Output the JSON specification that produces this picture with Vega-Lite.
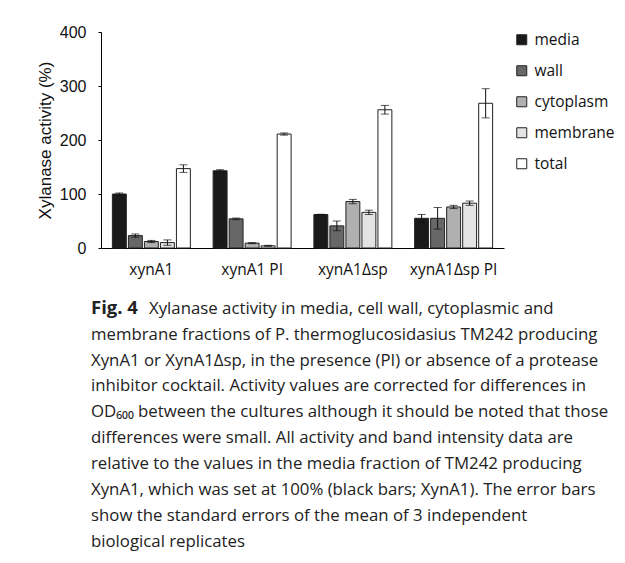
{
  "$schema": "https://vega.github.io/schema/vega-lite/v6.json",
  "padding": {"left": 36, "top": 24, "right": 5, "bottom": 0},
  "background": "white",
  "datasets": {
    "bars": [
      {"group": "xynA1", "fraction": "media", "value": 100, "err": 2},
      {"group": "xynA1", "fraction": "wall", "value": 23, "err": 3},
      {"group": "xynA1", "fraction": "cytoplasm", "value": 12, "err": 2},
      {"group": "xynA1", "fraction": "membrane", "value": 10, "err": 5},
      {"group": "xynA1", "fraction": "total", "value": 147, "err": 7},
      {"group": "xynA1 PI", "fraction": "media", "value": 143, "err": 2},
      {"group": "xynA1 PI", "fraction": "wall", "value": 54, "err": 1.5},
      {"group": "xynA1 PI", "fraction": "cytoplasm", "value": 9, "err": 1},
      {"group": "xynA1 PI", "fraction": "membrane", "value": 4, "err": 1},
      {"group": "xynA1 PI", "fraction": "total", "value": 211, "err": 2},
      {"group": "xynA1Δsp", "fraction": "media", "value": 62, "err": 0.5},
      {"group": "xynA1Δsp", "fraction": "wall", "value": 41, "err": 9},
      {"group": "xynA1Δsp", "fraction": "cytoplasm", "value": 86, "err": 4},
      {"group": "xynA1Δsp", "fraction": "membrane", "value": 66, "err": 4},
      {"group": "xynA1Δsp", "fraction": "total", "value": 256, "err": 8},
      {"group": "xynA1Δsp PI", "fraction": "media", "value": 55, "err": 7},
      {"group": "xynA1Δsp PI", "fraction": "wall", "value": 55, "err": 20},
      {"group": "xynA1Δsp PI", "fraction": "cytoplasm", "value": 76, "err": 3},
      {"group": "xynA1Δsp PI", "fraction": "membrane", "value": 83, "err": 4},
      {"group": "xynA1Δsp PI", "fraction": "total", "value": 268, "err": 27}
    ],
    "caption": [
      {"line": 1, "part": "bold", "text": "Fig. 4"},
      {"line": 1, "part": "first", "text": "Xylanase activity in media, cell wall, cytoplasmic and"},
      {"line": 2, "part": "rest", "text": "membrane fractions of P. thermoglucosidasius TM242 producing"},
      {"line": 3, "part": "rest", "text": "XynA1 or XynA1Δsp, in the presence (PI) or absence of a protease"},
      {"line": 4, "part": "rest", "text": "inhibitor cocktail. Activity values are corrected for differences in"},
      {"line": 5, "part": "rest", "text": "OD₆₀₀ between the cultures although it should be noted that those"},
      {"line": 6, "part": "rest", "text": "differences were small. All activity and band intensity data are"},
      {"line": 7, "part": "rest", "text": "relative to the values in the media fraction of TM242 producing"},
      {"line": 8, "part": "rest", "text": "XynA1, which was set at 100% (black bars; XynA1). The error bars"},
      {"line": 9, "part": "rest", "text": "show the standard errors of the mean of 3 independent"},
      {"line": 10, "part": "rest", "text": "biological replicates"}
    ]
  },
  "concat": [
    {
      "width": 403,
      "height": 216,
      "data": {"name": "bars"},
      "encoding": {
        "x": {
          "field": "group", "type": "nominal",
          "sort": ["xynA1", "xynA1 PI", "xynA1Δsp", "xynA1Δsp PI"],
          "scale": {"paddingInner": 0.226, "paddingOuter": 0.113},
          "axis": {"title": null, "labelAngle": 0, "ticks": false, "domainColor": "#000", "labelFont": "Open Sans", "labelFontSize": 15.5, "labelColor": "#111", "labelPadding": 14}
        },
        "xOffset": {
          "field": "fraction", "type": "nominal",
          "sort": ["media", "wall", "cytoplasm", "membrane", "total"],
          "scale": {"paddingInner": 0.13, "paddingOuter": 0}
        }
      },
      "layer": [
        {
          "mark": {"type": "bar", "stroke": "#222", "strokeWidth": 1},
          "encoding": {
            "y": {
              "field": "value", "type": "quantitative", "title": "Xylanase activity (%)",
              "scale": {"domain": [0, 400], "nice": false},
              "axis": {"values": [0, 100, 200, 300, 400], "tickSize": 3, "tickColor": "#000", "domainColor": "#000", "labelFont": "Liberation Sans", "labelFontSize": 16, "labelColor": "#111", "labelPadding": 12, "titleFont": "Liberation Sans", "titleFontSize": 17, "titleFontWeight": "normal", "titleColor": "#111", "titlePadding": 5}
            },
            "fill": {
              "field": "fraction", "type": "nominal",
              "scale": {"domain": ["media", "wall", "cytoplasm", "membrane", "total"], "range": ["#1a1a1a", "#676767", "#b0b0b0", "#e3e3e3", "#ffffff"]},
              "legend": {"title": null, "orient": "right", "offset": 10, "padding": 0, "symbolType": "square", "symbolSize": 100, "symbolStrokeColor": "#222", "symbolStrokeWidth": 1, "labelFont": "Open Sans", "labelFontSize": 15.5, "labelColor": "#111", "labelOffset": 5, "rowPadding": 14}
            }
          }
        },
        {
          "mark": {"type": "errorbar", "ticks": {"size": 8}, "color": "#111", "thickness": 1},
          "encoding": {
            "y": {"field": "value", "type": "quantitative", "title": "Xylanase activity (%)"},
            "yError": {"field": "err"}
          }
        }
      ]
    },
    {
      "width": 560,
      "height": 258.5,
      "data": {"name": "caption"},
      "encoding": {
        "y": {"field": "line", "type": "ordinal", "axis": null, "scale": {"paddingInner": 0, "paddingOuter": 0}},
        "x": {"value": 0},
        "text": {"field": "text"}
      },
      "layer": [
        {
          "transform": [{"filter": "datum.part === 'rest'"}],
          "mark": {"type": "text", "align": "left", "baseline": "alphabetic", "font": "Open Sans", "fontSize": 16.8, "color": "#222", "dx": -10}
        },
        {
          "transform": [{"filter": "datum.part === 'first'"}],
          "mark": {"type": "text", "align": "left", "baseline": "alphabetic", "font": "Open Sans", "fontSize": 16.8, "color": "#222", "dx": 48}
        },
        {
          "transform": [{"filter": "datum.part === 'bold'"}],
          "mark": {"type": "text", "align": "left", "baseline": "alphabetic", "font": "Open Sans", "fontSize": 18.5, "fontWeight": "bold", "color": "#222", "dx": -10}
        }
      ]
    }
  ],
  "columns": 1,
  "align": "none",
  "spacing": 20,
  "resolve": {"scale": {"fill": "independent"}, "legend": {"fill": "independent"}},
  "config": {"view": {"stroke": null}, "axis": {"grid": false}}
}
